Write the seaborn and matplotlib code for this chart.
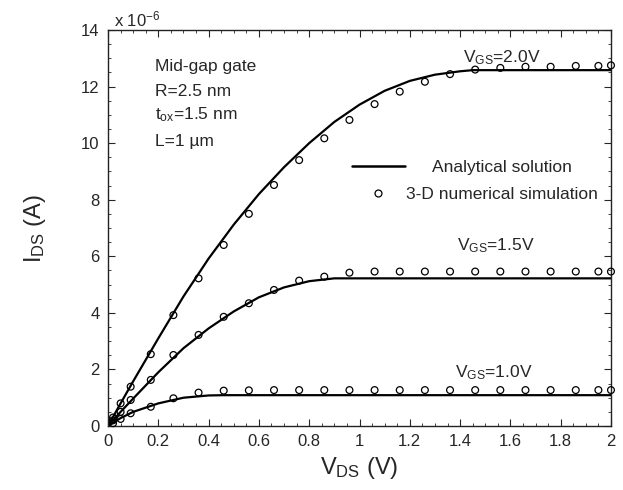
import numpy as np
import pandas as pd
import matplotlib
matplotlib.use("Agg")
import matplotlib.pyplot as plt
from matplotlib.lines import Line2D
from matplotlib.ticker import MultipleLocator
import seaborn as sns

# ---------------- data (currents in units of 1e-6 A) ----------------
# Analytical solution curves
line_v_20 = [0, 0.05, 0.1, 0.2, 0.3, 0.4, 0.5, 0.6, 0.7, 0.8, 0.9, 1.0, 1.1, 1.2, 1.3, 1.4, 1.45, 2.0]
line_i_20 = [0, 0.8, 1.58, 3.1, 4.58, 5.92, 7.12, 8.2, 9.15, 10.0, 10.75, 11.36, 11.85, 12.2, 12.42, 12.54, 12.58, 12.58]

line_v_15 = [0, 0.05, 0.1, 0.2, 0.3, 0.4, 0.5, 0.6, 0.7, 0.8, 0.9, 2.0]
line_i_15 = [0, 0.5, 0.97, 1.9, 2.75, 3.45, 4.05, 4.55, 4.9, 5.12, 5.22, 5.22]

line_v_10 = [0, 0.05, 0.1, 0.2, 0.3, 0.4, 0.46, 2.0]
line_i_10 = [0, 0.28, 0.5, 0.8, 1.0, 1.08, 1.09, 1.09]

# 3-D numerical simulation points
sim_v = [0.02, 0.05, 0.09, 0.17, 0.26, 0.36, 0.46, 0.56, 0.66, 0.76, 0.86, 0.96,
         1.06, 1.16, 1.26, 1.36, 1.46, 1.56, 1.66, 1.76, 1.86, 1.95, 2.0]
sim_i_20 = [0.3, 0.8, 1.39, 2.54, 3.92, 5.22, 6.40, 7.50, 8.52, 9.40, 10.17, 10.82,
            11.38, 11.82, 12.17, 12.44, 12.60, 12.66, 12.70, 12.70, 12.73, 12.73, 12.75]
sim_i_15 = [0.2, 0.5, 0.92, 1.63, 2.51, 3.22, 3.86, 4.34, 4.81, 5.14, 5.28, 5.42,
            5.46, 5.46, 5.46, 5.46, 5.46, 5.46, 5.46, 5.46, 5.46, 5.46, 5.46]
sim_i_10 = [0.1, 0.25, 0.45, 0.68, 0.98, 1.18, 1.25, 1.26, 1.27, 1.27, 1.27, 1.27,
            1.27, 1.27, 1.27, 1.27, 1.27, 1.27, 1.27, 1.27, 1.27, 1.27, 1.27]

vgs_labels = ["2.0", "1.5", "1.0"]
x_ticks = [0, 0.2, 0.4, 0.6, 0.8, 1, 1.2, 1.4, 1.6, 1.8, 2]
x_ticklabels = ["0", "0.2", "0.4", "0.6", "0.8", "1", "1.2", "1.4", "1.6", "1.8", "2"]
y_ticks = [0, 2, 4, 6, 8, 10, 12, 14]
y_ticklabels = ["0", "2", "4", "6", "8", "10", "12", "14"]

# ---------------- tables ----------------
df_line = pd.concat([
    pd.DataFrame({"V": line_v_20, "I": line_i_20, "vgs": "2.0"}),
    pd.DataFrame({"V": line_v_15, "I": line_i_15, "vgs": "1.5"}),
    pd.DataFrame({"V": line_v_10, "I": line_i_10, "vgs": "1.0"}),
], ignore_index=True)
df_sim = pd.concat([
    pd.DataFrame({"V": sim_v, "I": sim_i_20, "vgs": "2.0"}),
    pd.DataFrame({"V": sim_v, "I": sim_i_15, "vgs": "1.5"}),
    pd.DataFrame({"V": sim_v, "I": sim_i_10, "vgs": "1.0"}),
], ignore_index=True)

# ---------------- style ----------------
sns.set_style("ticks")
plt.rcParams["font.family"] = ["Liberation Sans", "DejaVu Sans"]
plt.rcParams["mathtext.fontset"] = "custom"
plt.rcParams["mathtext.rm"] = "Liberation Sans"
plt.rcParams["mathtext.it"] = "Liberation Sans:italic"
plt.rcParams["mathtext.bf"] = "Liberation Sans:bold"

fig = plt.figure(figsize=(6.23, 4.90), dpi=100)
ax = fig.add_axes([0.1734, 0.1306, 0.8073, 0.8082])

sns.lineplot(data=df_line, x="V", y="I", units="vgs", estimator=None, sort=False,
             color="black", linewidth=1.6, ax=ax, legend=False)
sns.scatterplot(data=df_sim, x="V", y="I", marker="o", s=24, color="black",
                linewidth=0.9, ax=ax, legend=False, zorder=3)
for coll in ax.collections:
    coll.set_facecolor("none")
    coll.set_edgecolor("black")
    coll.set_clip_on(False)

ax.set_xlim(0, 2)
ax.set_ylim(0, 14)
ax.set_xticks(x_ticks)
ax.set_xticklabels(x_ticklabels)
ax.set_yticks(y_ticks)
ax.set_yticklabels(y_ticklabels)
ax.xaxis.set_minor_locator(MultipleLocator(0.05))
ax.yaxis.set_minor_locator(MultipleLocator(0.5))
ax.tick_params(which="major", direction="in", length=5, width=0.8,
               top=True, right=True, labelsize=12, pad=6)
ax.tick_params(which="minor", direction="in", length=2, width=0.6,
               top=True, right=True)
for sp in ax.spines.values():
    sp.set_linewidth(1.0)
    sp.set_color("#222222")

ax.set_xlabel(r"V$_{\rm DS}$ (V)", fontsize=17, labelpad=4)
ax.set_ylabel(r"I$_{\rm DS}$ (A)", fontsize=17, labelpad=24)

ax.text(0.012, 1.027, r"x 10$^{-6}$", transform=ax.transAxes, fontsize=12,
        va="center", ha="left")

info = ["Mid-gap gate", "R=2.5 nm", r"t$_{\rm ox}$=1.5 nm", "L=1 \u00b5m"]
info_y = [0.908, 0.845, 0.785, 0.718]
for t, yy in zip(info, info_y):
    ax.text(0.093, yy, t, transform=ax.transAxes, fontsize=12.5,
            va="center", ha="left")

vgs_x = [1.41, 1.386, 1.38]
vgs_y = [12.87, 6.22, 1.71]
for lab, xx, yy in zip(vgs_labels, vgs_x, vgs_y):
    ax.text(xx, yy, r"V$_{\rm GS}$=" + lab + "V", fontsize=12.5,
            va="baseline", ha="left")

# legend: two single-entry legends so the labels sit centred like the original
h_line = Line2D([], [], color="black", lw=1.8)
h_mark = Line2D([], [], color="black", lw=0, marker="o", markersize=5,
                markerfacecolor="none", markeredgewidth=0.9)
leg1 = ax.legend([h_line], ["Analytical solution"], loc="center left",
                 bbox_to_anchor=(0.485, 0.652), frameon=False, fontsize=12.5,
                 handlelength=3.05, handletextpad=1.55, borderpad=0,
                 borderaxespad=0)
ax.add_artist(leg1)
ax.legend([h_mark], ["3-D numerical simulation"], loc="center left",
          bbox_to_anchor=(0.485, 0.585), frameon=False, fontsize=12.5,
          handlelength=3.05, handletextpad=0.05, borderpad=0,
          borderaxespad=0)

fig.savefig("out.png", dpi=100)
